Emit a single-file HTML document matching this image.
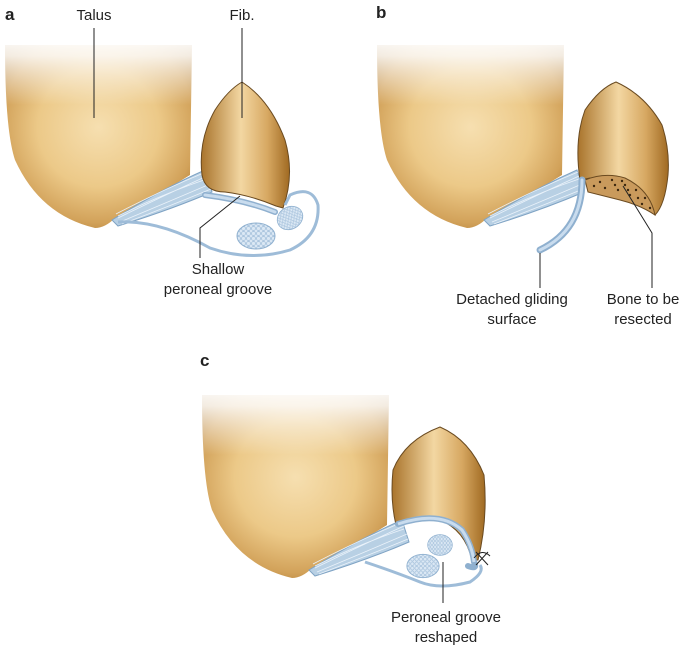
<!DOCTYPE html>
<html><head><style>
body{margin:0;background:#fff;}
svg{display:block;}
text{font-family:"Liberation Sans",sans-serif;font-size:15px;fill:#222;}
</style></head><body>
<svg width="685" height="649" viewBox="0 0 685 649">
<defs>
<radialGradient id="bone" cx="0.5" cy="0.45" r="0.65">
<stop offset="0" stop-color="#f6dfb0"/><stop offset="0.5" stop-color="#ecc988"/><stop offset="0.8" stop-color="#d2a25a"/><stop offset="1" stop-color="#a9742c"/></radialGradient>
<linearGradient id="fib" x1="0" y1="0" x2="1" y2="0">
<stop offset="0" stop-color="#a9742c"/><stop offset="0.45" stop-color="#f3d7a2"/><stop offset="0.75" stop-color="#d7a862"/><stop offset="1" stop-color="#a06a22"/></linearGradient>
<linearGradient id="fade" x1="0" y1="0" x2="0" y2="1">
<stop offset="0" stop-color="#fff" stop-opacity="1"/><stop offset="0.3" stop-color="#fff" stop-opacity="0.85"/><stop offset="1" stop-color="#fff" stop-opacity="0"/></linearGradient>
<pattern id="cellpat" width="5" height="5" patternUnits="userSpaceOnUse">
<rect width="5" height="5" fill="#dbe8f4"/><circle cx="2.5" cy="2.5" r="2" fill="none" stroke="#9dbbd8" stroke-width="0.7"/></pattern>
<g id="talus">
<path d="M5,45 L192,45 L190,175 Q150,200 115,218 Q105,228 95,228 Q40,215 15,160 Q5,130 5,45 Z" fill="url(#bone)"/>
<rect x="0" y="35" width="205" height="70" fill="url(#fade)"/>
<path d="M112,220 Q160,190 205,170 L212,192 Q170,210 118,226Z" fill="#b8d0e4" stroke="#7fa3c4" stroke-width="1"/>
<path d="M118,218 Q165,195 207,176 M116,214 Q162,190 206,172 M120,222 Q168,202 210,184 M122,224 Q170,206 211,189 M118,216 Q165,193 207,179" stroke="#eaf2fa" stroke-width="0.8" fill="none"/>
</g>
<g id="cells">
<ellipse rx="19" ry="13" fill="url(#cellpat)" stroke="#8fb0cf"/>
</g>
</defs>

<!-- panel a -->
<use href="#talus"/>
<path d="M242,82 Q270,100 285,140 Q295,175 283,208 L276,206 Q250,195 225,192 Q205,192 202,175 Q198,140 215,110 Q228,90 242,82Z" fill="url(#fib)" stroke="#6a4a20" stroke-width="1"/>
<path d="M205,195 Q245,200 275,212" stroke="#8fb0cf" stroke-width="6" fill="none" stroke-linecap="round"/>
<path d="M205,195 Q245,200 275,212" stroke="#c9dcee" stroke-width="3" fill="none" stroke-linecap="round"/>
<path d="M118,222 Q160,220 210,248 Q250,262 290,250 Q320,236 318,205 Q312,185 290,195 L285,205" stroke="#9ebcd8" stroke-width="3" fill="none"/>
<use href="#cells" x="256" y="236"/>
<use href="#cells" transform="translate(290,218) rotate(-30) scale(0.7,0.85)"/>
<text x="5" y="20" style="font-weight:bold;font-size:17px">a</text>
<text x="94" y="20" text-anchor="middle">Talus</text>
<line x1="94" y1="28" x2="94" y2="118" stroke="#222"/>
<text x="242" y="20" text-anchor="middle">Fib.</text>
<line x1="242" y1="28" x2="242" y2="118" stroke="#222"/>
<polyline points="200,258 200,228 240,196" fill="none" stroke="#222"/>
<text x="218" y="274" text-anchor="middle">Shallow</text>
<text x="218" y="294" text-anchor="middle">peroneal groove</text>

<!-- panel b -->
<use href="#talus" x="372"/>
<path d="M616,82 Q645,95 662,125 Q670,150 668,175 Q665,205 655,215 Q625,185 590,178 L580,180 Q574,140 585,110 Q600,88 616,82Z" fill="url(#fib)" stroke="#6a4a20"/>
<path d="M585,180 Q605,172 625,178 Q650,190 655,215 Q640,205 620,200 Q600,195 588,192Z" fill="#c99a5c" stroke="#6a4a20"/>
<g fill="#3d2810">
<circle cx="600" cy="182" r="1.2"/><circle cx="612" cy="180" r="1.2"/><circle cx="625" cy="185" r="1.2"/><circle cx="636" cy="190" r="1.2"/><circle cx="645" cy="198" r="1.2"/><circle cx="605" cy="188" r="1.2"/><circle cx="618" cy="190" r="1.2"/><circle cx="630" cy="195" r="1.2"/><circle cx="642" cy="204" r="1.2"/><circle cx="594" cy="186" r="1.2"/><circle cx="615" cy="185" r="1.2"/><circle cx="628" cy="190" r="1.2"/><circle cx="650" cy="208" r="1.2"/><circle cx="622" cy="181" r="1.2"/><circle cx="638" cy="198" r="1.2"/></g>
<path d="M582,180 Q582,230 540,250" stroke="#8fb0cf" stroke-width="7" fill="none" stroke-linecap="round"/>
<path d="M582,180 Q582,230 540,250" stroke="#c9dcee" stroke-width="3" fill="none" stroke-linecap="round"/>
<text x="376" y="18" style="font-weight:bold;font-size:17px">b</text>
<line x1="540" y1="253" x2="540" y2="288" stroke="#222"/>
<polyline points="652,288 652,233 623,186" fill="none" stroke="#222"/>
<text x="512" y="304" text-anchor="middle">Detached gliding</text>
<text x="512" y="324" text-anchor="middle">surface</text>
<text x="643" y="304" text-anchor="middle">Bone to be</text>
<text x="643" y="324" text-anchor="middle">resected</text>

<!-- panel c -->
<use href="#talus" x="197" y="350"/>
<path d="M440,427 Q470,440 484,475 Q488,520 478,560 L472,560 Q465,530 440,520 Q410,515 396,525 Q390,500 393,470 Q405,440 440,427Z" fill="url(#fib)" stroke="#6a4a20"/>
<path d="M398,524 Q440,510 462,530 Q472,545 474,562 Q478,570 468,566" stroke="#8fb0cf" stroke-width="6" fill="none" stroke-linecap="round"/>
<path d="M398,524 Q440,510 462,530 Q472,545 474,562" stroke="#c9dcee" stroke-width="3" fill="none"/>
<path d="M365,562 Q395,572 420,582 Q440,590 470,582 Q485,572 480,565" stroke="#9ebcd8" stroke-width="3" fill="none"/>
<path d="M476,552 L488,565 M488,552 L476,565 M474,558 Q482,548 490,556" stroke="#222" fill="none"/>
<use href="#cells" transform="translate(440,545) scale(0.65,0.8)"/>
<use href="#cells" transform="translate(423,566) scale(0.85,0.9)"/>
<text x="200" y="366" style="font-weight:bold;font-size:17px">c</text>
<line x1="443" y1="562" x2="443" y2="603" stroke="#222"/>
<text x="446" y="622" text-anchor="middle">Peroneal groove</text>
<text x="446" y="642" text-anchor="middle">reshaped</text>
</svg>
</body></html>
